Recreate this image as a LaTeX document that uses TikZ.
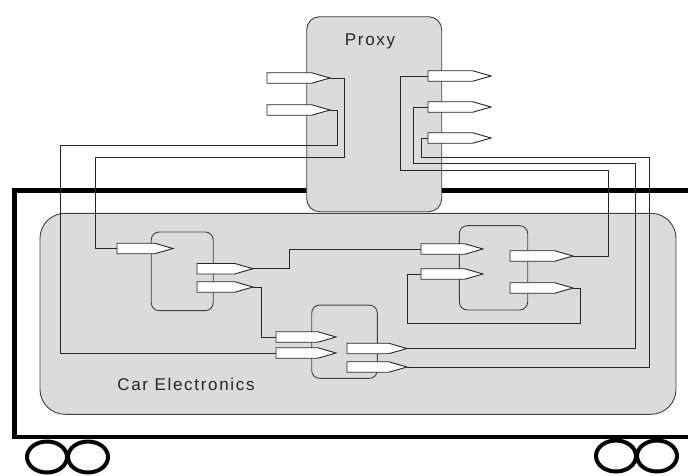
\documentclass[tikz,border=0pt]{standalone}
\usepackage{fontspec}
\newfontfamily\labelfont[LetterSpace=10]{Liberation Sans}
\usetikzlibrary{shapes.symbols, positioning}

\begin{document}
\begin{tikzpicture}[
  x=1pt, y=-1pt,
  unit/.style={rectangle, draw=black!75, fill=black!14, line width=0.9pt,
               rounded corners=8pt, inner sep=0pt, outer sep=0pt},
  port/.style={signal, signal to=east, signal pointer angle=32,
               draw=black!85, fill=white, line width=0.9pt,
               minimum width=60pt, minimum height=10.5pt,
               inner sep=0pt, outer sep=0pt, anchor=west},
  wire/.style={draw=black!85, line width=0.9pt},
  frame/.style={draw=black, line width=4.5pt},
  wheel/.style={draw=black, line width=4pt},
  lbl/.style={font=\labelfont\fontsize{17}{20}\selectfont, text=black!85},
]
  \useasboundingbox (0,0) rectangle (688,475);

  % car body and wheels
  \draw[frame] (688,190.5) -| (14.5,437) -- (688,437);
  \draw[wheel] (47,457) ellipse [x radius=20, y radius=15.5];
  \draw[wheel] (88,457) ellipse [x radius=20, y radius=15.5];
  \draw[wheel] (616,456) ellipse [x radius=20, y radius=15.5];
  \draw[wheel] (657,456) ellipse [x radius=20, y radius=15.5];

  % boxes
  \node[unit, rounded corners=25pt, minimum width=636pt, minimum height=201pt] (car) at (358,313.8) {};
  \node[unit, rounded corners=13pt, minimum width=135pt, minimum height=195pt] (proxy) at (374.2,114.2) {};
  \node[unit, minimum width=62pt, minimum height=78.7pt] (ecuA) at (182.2,271.3) {};
  \node[unit, minimum width=68.4pt, minimum height=84.3pt] (ecuB) at (493.5,267.8) {};
  \node[unit, minimum width=65.6pt, minimum height=73.3pt] (ecuC) at (344.5,341.7) {};
  \node[lbl] (proxylbl) at (370,41) {Proxy};
  \node[lbl] (carlbl) at (186,384.5) {Car Electronics};

  % ports
  \node[port, minimum width=63pt] (pin1) at (267,78) {};
  \node[port, minimum width=63pt] (pin2) at (267,110) {};
  \node[port, minimum width=63pt] (pout1) at (428,76) {};
  \node[port, minimum width=63pt] (pout2) at (428,107) {};
  \node[port, minimum width=63pt] (pout3) at (428,138) {};
  \node[port, minimum width=56pt] (ain) at (117,248.5) {};
  \node[port, minimum width=56pt] (aout1) at (197,268.7) {};
  \node[port, minimum width=56pt] (aout2) at (197,287) {};
  \node[port, minimum width=62pt] (bin1) at (421,249) {};
  \node[port, minimum width=62pt] (bin2) at (421,274) {};
  \node[port, minimum width=63pt] (bout1) at (510,256) {};
  \node[port, minimum width=63pt] (bout2) at (510,288) {};
  \node[port] (cin1) at (276,337) {};
  \node[port] (cin2) at (276,353) {};
  \node[port] (cout1) at (347,348.5) {};
  \node[port] (cout2) at (347,367) {};

  % wires
  \draw[wire] (pin1.east) -| (344,157) -| (95,248.5) -- (ain.west);
  \draw[wire] (pin2.east) -| (337,145) -| (60,353) -- (cin2.west);
  \draw[wire] (pout1.west) -| (400,170) -| (608,256) -- (bout1.east);
  \draw[wire] (pout2.west) -| (413,163) -| (635,348.5) -- (cout1.east);
  \draw[wire] (pout3.west) -| (421,157) -| (649,367) -- (cout2.east);
  \draw[wire] (aout1.east) -- ++(36,0) |- (bin1.west);
  \draw[wire] (aout2.east) -- ++(8,0) |- (cin1.west);
  \draw[wire] (bout2.east) -- ++(7,0) |- (407,323) |- (bin2.west);
\end{tikzpicture}
\end{document}
